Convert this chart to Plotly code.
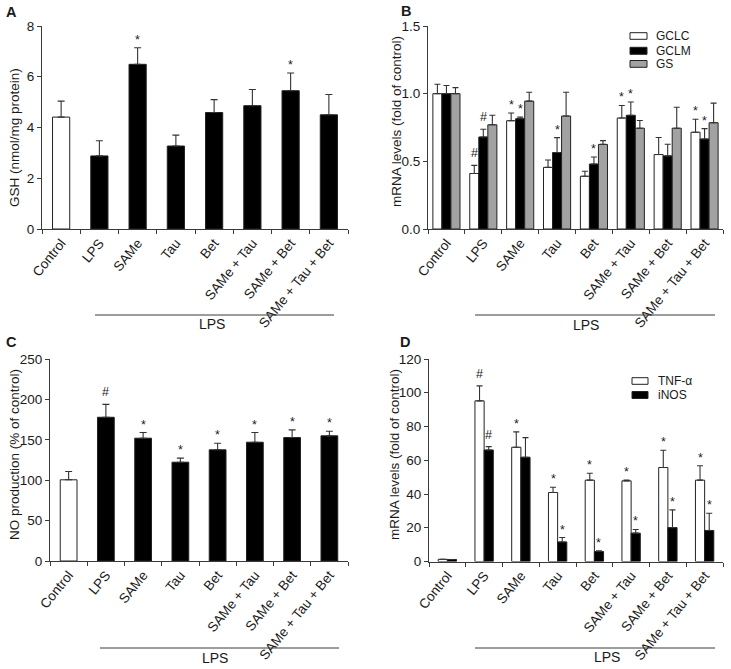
import plotly.graph_objects as go

W, H = 731, 669

def px(x):
    return x / W

def py(y):
    return 1 - y / H

# ---------------- data ----------------
categories = ["Control", "LPS", "SAMe", "Tau", "Bet", "SAMe + Tau", "SAMe + Bet", "SAMe + Tau + Bet"]

# A: GSH (nmol/mg protein)
gsh_mean = [4.41, 2.88, 6.49, 3.27, 4.59, 4.86, 5.45, 4.50]
gsh_sem = [0.63, 0.60, 0.65, 0.43, 0.51, 0.64, 0.70, 0.80]
gsh_sig = ["", "", "*", "", "", "", "*", ""]

# B: mRNA levels (fold of control)
gclc_mean = [1.00, 0.41, 0.80, 0.455, 0.39, 0.82, 0.55, 0.715]
gclc_sem = [0.07, 0.06, 0.057, 0.055, 0.037, 0.093, 0.126, 0.096]
gclm_mean = [1.00, 0.68, 0.815, 0.565, 0.48, 0.84, 0.54, 0.665]
gclm_sem = [0.06, 0.057, 0.012, 0.11, 0.052, 0.098, 0.086, 0.077]
gs_mean = [1.00, 0.77, 0.945, 0.835, 0.625, 0.745, 0.745, 0.785]
gs_sem = [0.045, 0.07, 0.065, 0.175, 0.028, 0.057, 0.155, 0.145]
gclc_sig = ["", "#", "*", "", "", "*", "", "*"]
gclm_sig = ["", "#", "*", "*", "*", "*", "", "*"]
gs_sig = ["", "", "", "", "", "", "", ""]

# C: NO production (% of control)
no_mean = [100.5, 177.9, 152.0, 122.3, 137.6, 147.0, 152.8, 154.9]
no_sem = [10.3, 16.0, 7.0, 5.0, 8.2, 12.0, 9.5, 5.7]
no_sig = ["", "#", "*", "*", "*", "*", "*", "*"]

# D: mRNA levels (fold of control)
tnf_mean = [1.3, 95.2, 67.7, 40.9, 48.2, 47.8, 55.7, 48.2]
tnf_sem = [0.0, 8.9, 9.1, 3.1, 4.1, 0.4, 10.2, 8.5]
inos_mean = [1.2, 66.1, 61.8, 11.6, 5.9, 16.8, 20.1, 18.4]
inos_sem = [0.0, 2.0, 11.6, 2.6, 0.4, 2.2, 10.5, 10.2]
tnf_sig = ["", "#", "*", "*", "*", "*", "*", "*"]
inos_sig = ["", "#", "", "*", "*", "*", "*", "*"]

# ---------------- style ----------------
FONT = "Liberation Sans"
TXT = "#1a1a1a"
AX = "#3a3a3a"
WHITE = "#ffffff"
BLACK = "#000000"
GRAY = "#a2a2a2"
EDGE = "#222222"

xs = list(range(len(categories)))

fig = go.Figure()

def add_bars(y, err, color, xa, ya, width, offset, capw):
    fig.add_trace(go.Bar(
        x=xs, y=y, width=width, offset=offset,
        marker=dict(color=color, line=dict(color=EDGE, width=1)),
        error_y=dict(type="data", array=err, arrayminus=[0] * len(err), symmetric=False,
                     color="#333333", thickness=1.1, width=capw),
        xaxis=xa, yaxis=ya, showlegend=False, hoverinfo="skip",
    ))

def add_sig(y, err, sig, center_off, xa, ya):
    for i, s in enumerate(sig):
        if s:
            fig.add_annotation(
                x=i + center_off, y=y[i] + err[i], xref=xa, yref=ya,
                text=s, showarrow=False, yanchor="bottom", xanchor="center",
                yshift=(-1 if s == "*" else 3),
                font=dict(family=FONT, size=12.5, color=TXT),
            )

# A
colA = [WHITE] + [BLACK] * 7
add_bars(gsh_mean, gsh_sem, colA, "x", "y", 0.45, -0.225, 3.5)
add_sig(gsh_mean, gsh_sem, gsh_sig, 0, "x", "y")

# B
wB = 0.245
for k, (m, e, c, s) in enumerate([(gclc_mean, gclc_sem, WHITE, gclc_sig),
                                   (gclm_mean, gclm_sem, BLACK, gclm_sig),
                                   (gs_mean, gs_sem, GRAY, gs_sig)]):
    off = -1.5 * wB + k * wB
    add_bars(m, e, c, "x2", "y2", wB, off, 3)
    add_sig(m, e, s, off + wB / 2, "x2", "y2")

# C
add_bars(no_mean, no_sem, colA, "x3", "y3", 0.45, -0.225, 3.5)
add_sig(no_mean, no_sem, no_sig, 0, "x3", "y3")

# D
wD = 0.25
for k, (m, e, c, s) in enumerate([(tnf_mean, tnf_sem, WHITE, tnf_sig),
                                   (inos_mean, inos_sem, BLACK, inos_sig)]):
    off = -wD + k * wD
    add_bars(m, e, c, "x4", "y4", wD, off, 3)
    add_sig(m, e, s, off + wD / 2, "x4", "y4")


def xaxis_cfg(x0, x1, anchor):
    return dict(
        domain=[px(x0), px(x1)], anchor=anchor, range=[-0.5, 7.5], automargin=False,
        tickmode="array", tickvals=xs, ticktext=categories, tickangle=-51,
        ticks="", showline=True, linecolor=AX, linewidth=1, showgrid=False, zeroline=False,
        tickfont=dict(family=FONT, size=13.5, color=TXT),
        minor=dict(tickmode="array", tickvals=[i - 0.5 for i in range(9)], ticks="outside",
                   ticklen=4, tickcolor=AX, tickwidth=1, showgrid=False),
        fixedrange=True,
    )


def yaxis_cfg(y0, y1, rng, tv, tt, anchor):
    return dict(
        domain=[py(y1), py(y0)], anchor=anchor, range=rng, automargin=False,
        tickmode="array", tickvals=tv, ticktext=tt,
        ticks="outside", ticklen=4, tickcolor=AX, tickwidth=1,
        showline=True, linecolor=AX, linewidth=1, showgrid=False, zeroline=False,
        tickfont=dict(family=FONT, size=13.5, color=TXT), fixedrange=True,
    )

fig.update_layout(
    template="none",
    width=W, height=H, autosize=False,
    margin=dict(l=0, r=0, t=0, b=0, pad=0),
    paper_bgcolor="white", plot_bgcolor="white",
    barmode="overlay", showlegend=False,
    font=dict(family=FONT, color=TXT),
    xaxis=xaxis_cfg(42, 348, "y"),
    yaxis=yaxis_cfg(26, 229, [0, 8], [0, 2, 4, 6, 8], ["0", "2", "4", "6", "8"], "x"),
    xaxis2=xaxis_cfg(428, 723, "y2"),
    yaxis2=yaxis_cfg(26, 229, [0, 1.5], [0, 0.5, 1.0, 1.5], ["0.0", "0.5", "1.0", "1.5"], "x2"),
    xaxis3=xaxis_cfg(50, 348, "y3"),
    yaxis3=yaxis_cfg(359, 561, [0, 250], [0, 50, 100, 150, 200, 250],
                     ["0", "50", "100", "150", "200", "250"], "x3"),
    xaxis4=xaxis_cfg(429, 723, "y4"),
    yaxis4=yaxis_cfg(359, 561.5, [0, 120], [0, 20, 40, 60, 80, 100, 120],
                     ["0", "20", "40", "60", "80", "100", "120"], "x4"),
)

# panel letters
for letter, (lx, ly) in {"A": (11.5, 12), "B": (406, 11), "C": (11.5, 342), "D": (405, 342)}.items():
    fig.add_annotation(x=px(lx), y=py(ly), xref="paper", yref="paper", text=f"<b>{letter}</b>",
                       showarrow=False, xanchor="center", yanchor="middle", borderpad=0,
                       font=dict(family=FONT, size=14.5, color=TXT))

# y-axis titles
for text, (tx, ty) in [("GSH (nmol/mg protein)", (14, 138)),
                       ("mRNA levels (fold of control)", (396, 122)),
                       ("NO production (% of control)", (14, 455)),
                       ("mRNA levels (fold of control)", (394, 455))]:
    fig.add_annotation(x=px(tx), y=py(ty), xref="paper", yref="paper", text=text,
                       textangle=-90, showarrow=False, xanchor="center", yanchor="middle",
                       font=dict(family=FONT, size=13.5, color=TXT))

# LPS bracket lines and labels
for (x0, x1, ly, tx, ty) in [(95, 334, 315, 212, 324), (475, 715, 315, 586, 325),
                             (100, 339, 648, 215.5, 658), (475, 715, 648, 607, 657)]:
    fig.add_shape(type="line", xref="paper", yref="paper", x0=px(x0), x1=px(x1),
                  y0=py(ly), y1=py(ly), line=dict(color=AX, width=1))
    fig.add_annotation(x=px(tx), y=py(ty), xref="paper", yref="paper", text="LPS",
                       showarrow=False, xanchor="center", yanchor="middle",
                       font=dict(family=FONT, size=14, color=TXT))

# legends (B and D)
def legend_item(bx0, by0, bx1, by1, color, label, tx):
    fig.add_shape(type="rect", xref="paper", yref="paper",
                  x0=px(bx0), x1=px(bx1), y0=py(by1), y1=py(by0),
                  fillcolor=color, line=dict(color=EDGE, width=1))
    fig.add_annotation(x=px(tx), y=py((by0 + by1) / 2), xref="paper", yref="paper", text=label,
                       showarrow=False, xanchor="left", yanchor="middle", borderpad=0,
                       font=dict(family=FONT, size=12, color=TXT))

legend_item(630, 32.7, 647, 39.3, WHITE, "GCLC", 655)
legend_item(630, 47.3, 647, 54.3, BLACK, "GCLM", 655)
legend_item(630, 60.5, 647, 67.3, GRAY, "GS", 655)
legend_item(632, 377.7, 648, 384.3, WHITE, "TNF-α", 657)
legend_item(632, 391.5, 648, 398.5, BLACK, "iNOS", 657)

fig.write_html(
    "out.html",
    config={"displayModeBar": False, "staticPlot": True},
    post_script="document.body.style.margin='0';document.body.style.overflow='hidden';",
)
